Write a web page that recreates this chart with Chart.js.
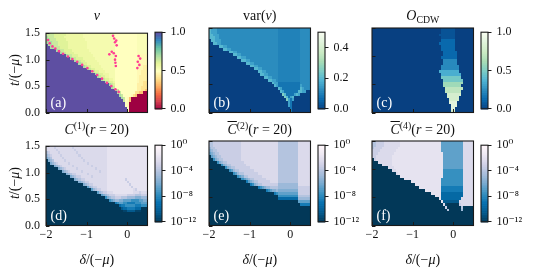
<!DOCTYPE html>
<html>
<head>
<meta charset="utf-8">
<script src="https://cdn.jsdelivr.net/npm/chart.js@4.4.1/dist/chart.umd.min.js"></script>
<style>
  body { margin: 0; width: 537px; height: 268px; position: relative; overflow: hidden; background: #fff;
         font-family: 'Liberation Serif', 'DejaVu Serif', serif; color: #111; }
  canvas { position: absolute; }
  .lbl { position: absolute; transform: translate(-50%, -50%); white-space: nowrap; font-size: 14px; line-height: 1; }
  .ylab { position: absolute; transform: translate(-50%, -50%) rotate(-90deg); white-space: nowrap; font-size: 14px; line-height: 1; }
  .pl { position: absolute; transform: translateY(-50%); color: #fff; font-size: 14px; line-height: 1; }
  sup { font-size: 0.7em; vertical-align: 0.5em; line-height: 0; }
  sub { font-size: 0.7em; vertical-align: -0.3em; line-height: 0; }
  .ob { text-decoration: overline; text-decoration-thickness: 1px; }
</style>
</head>
<body>
<script>
// axes
const deltaMin = -2, deltaMax = 0.5;
const tMin = 0, tMax = 1.5;
const deltaTicks = [-2, -1, 0];
const deltaTickLabels = ['−2', '−1', '0'];
const tTicks = [0, 0.5, 1, 1.5];
const tTickLabels = ['0.0', '0.5', '1.0', '1.5'];

// heatmap rows, top (t = 1.5) to bottom (t = 0), 50 cells in delta each, "level:count"
const nuRows = [
  "h:4 i:6 j:8 k:16 w:11 y:5",
  "g:1 h:3 i:5 j:9 k:16 w:11 y:5",
  "g:2 h:3 i:5 j:9 k:15 w:11 y:5",
  "g:3 h:3 i:5 j:9 k:14 w:11 y:5",
  "P:1 g:2 h:3 i:5 j:9 k:14 w:11 y:5",
  "P:2 g:2 h:3 i:4 j:9 k:14 w:11 y:5",
  "P:5 g:1 h:3 i:4 j:8 k:13 w:11 y:5",
  "P:7 g:1 h:2 i:4 j:8 k:12 w:11 y:5",
  "P:10 g:1 h:2 i:3 j:7 k:11 w:11 o:5",
  "P:12 g:1 h:2 i:3 j:6 k:10 w:11 o:5",
  "P:14 g:1 h:2 i:2 j:6 k:9 w:11 o:5",
  "P:16 g:1 h:1 i:2 j:6 k:8 w:11 o:5",
  "P:18 g:1 h:1 i:2 j:5 k:7 w:11 o:3 p:2",
  "P:20 g:1 h:1 i:2 j:4 k:6 w:11 o:3 p:2",
  "P:22 g:1 h:1 i:2 j:3 k:5 w:11 o:2 p:3",
  "P:24 g:1 h:1 i:2 j:3 k:3 w:11 o:2 p:3",
  "P:25 g:1 h:1 i:2 j:2 k:3 w:11 o:1 p:4",
  "P:27 g:1 h:1 i:2 j:2 k:1 w:11 o:1 p:4",
  "P:29 g:1 h:1 i:2 j:1 w:11 o:1 p:2 q:2",
  "P:31 g:1 h:1 i:1 w:11 p:3 q:2",
  "P:32 g:1 h:1 w:11 p:2 q:3",
  "P:34 g:1 h:1 w:9 p:2 q:2 r:1",
  "P:35 g:1 h:1 w:7 q:2 r:2 R:2",
  "P:36 g:1 h:1 w:4 o:1 q:1 r:1 R:5",
  "P:37 g:1 h:1 w:1 o:1 r:1 R:8",
  "P:38 h:1 w:1 o:1 r:1 R:8",
  "P:39 w:1 o:1 R:9",
  "P:39 w:1 o:1 R:9",
  "P:40 w:1 R:9",
  "P:40 o:1 R:9"
];
const nuLevels = { P: 1.0, g: 0.70, h: 0.65, i: 0.61, j: 0.57, k: 0.54, y: 0.52, w: 0.50,
                   o: 0.48, p: 0.45, q: 0.41, r: 0.34, R: 0.0 };

const varRows = [
  "e:1 c:3 b:30 m:11 b:5",
  "e:1 c:3 b:30 m:11 b:5",
  "e:2 c:3 b:29 m:11 b:5",
  "e:3 c:2 b:29 m:11 b:5",
  "D:1 e:2 c:3 b:28 m:11 b:5",
  "D:2 e:2 c:2 b:28 m:11 b:5",
  "D:5 e:2 c:2 b:25 m:11 b:5",
  "D:7 e:2 c:2 b:23 m:11 b:5",
  "D:10 e:2 c:2 b:20 m:11 b:5",
  "D:12 e:2 c:2 b:18 m:11 b:5",
  "D:14 e:2 c:2 b:16 m:11 b:5",
  "D:16 e:2 c:2 b:14 m:11 b:5",
  "D:18 e:2 c:2 b:12 m:11 b:5",
  "D:20 e:2 c:2 b:10 m:11 b:5",
  "D:22 e:2 c:2 b:8 m:11 b:5",
  "D:24 e:2 c:2 b:6 m:11 b:5",
  "D:25 e:2 c:2 b:5 m:11 b:5",
  "D:27 e:2 c:2 b:3 m:11 b:5",
  "D:29 e:2 c:2 b:1 m:11 b:5",
  "D:31 e:1 c:2 n:11 b:5",
  "D:32 e:1 c:1 n:11 c:1 b:4",
  "D:34 e:1 c:1 n:9 e:1 c:1 b:3",
  "D:35 e:1 c:1 n:7 e:2 c:2 D:2",
  "D:36 f:1 e:1 n:4 c:1 e:1 c:1 D:5",
  "D:37 f:1 e:1 n:1 c:1 e:1 D:8",
  "D:38 f:1 c:1 n:1 c:1 D:8",
  "D:39 c:1 n:1 D:9",
  "D:39 c:1 n:1 D:9",
  "D:40 n:1 D:9",
  "D:40 n:1 D:9"
];
const varLevels = { D: 0.0, n: 0.085, m: 0.108, b: 0.125, c: 0.16, e: 0.2, f: 0.26 };

const cdwRows = [
  "D:34 1:7 D:9",
  "D:34 1:7 D:9",
  "D:33 1:8 D:9",
  "D:34 1:7 D:9",
  "D:34 2:7 D:9",
  "D:33 2:8 D:9",
  "D:34 2:7 D:9",
  "D:34 2:7 D:9",
  "D:35 2:7 D:8",
  "D:35 2:7 D:8",
  "D:34 2:8 D:8",
  "D:35 3:7 D:8",
  "D:35 3:7 D:8",
  "D:34 3:9 D:7",
  "D:34 3:9 D:7",
  "D:33 4:10 D:7",
  "D:34 4:10 D:6",
  "D:34 5:10 D:6",
  "D:35 5:10 D:5",
  "D:35 6:10 D:5",
  "D:35 6:9 D:6",
  "D:36 7:9 D:5",
  "D:36 7:8 D:6",
  "D:37 8:7 D:6",
  "D:37 8:6 D:7",
  "D:38 8:5 D:7",
  "D:38 9:4 D:8",
  "D:39 9:3 D:8",
  "D:39 9:2 D:9",
  "D:39 8:2 D:9"
];
const cdwLevels = { D: 0.0, 1: 0.06, 2: 0.13, 3: 0.24, 4: 0.36, 5: 0.48, 6: 0.6, 7: 0.7, 8: 0.8, 9: 0.88 };

const c1Rows = [
  "b:4 c:1 b:8 c:1 b:16 a:20",
  "b:5 c:1 b:8 c:1 b:15 a:20",
  "d:1 c:1 b:4 c:1 b:8 c:1 b:14 a:20",
  "e:1 d:1 c:1 b:4 c:1 b:8 c:1 b:13 a:20",
  "f:1 e:1 d:1 b:5 c:1 b:8 c:1 b:12 a:20",
  "Z:1 f:1 e:1 d:1 b:5 c:1 b:8 c:1 b:11 a:20",
  "Z:2 f:1 e:1 d:1 c:1 b:5 c:1 b:8 c:1 b:9 a:20",
  "Z:4 f:1 e:1 d:1 c:1 b:5 c:1 b:8 c:1 b:7 a:20",
  "Z:6 f:1 e:1 d:1 c:1 b:5 c:1 b:8 c:1 b:5 a:20",
  "Z:8 f:1 e:1 d:1 c:1 b:5 c:1 b:8 c:1 b:3 a:20",
  "Z:10 f:1 e:1 d:1 c:2 b:5 c:1 b:9 a:20",
  "Z:12 f:1 e:1 d:1 c:2 b:5 c:1 b:7 a:20",
  "Z:14 f:1 e:1 d:1 c:2 b:11 a:9 c:1 a:10",
  "Z:16 f:1 e:1 d:1 c:2 b:9 a:10 c:1 a:9",
  "Z:18 f:1 e:1 d:1 c:2 b:7 a:11 c:1 a:8",
  "Z:20 g:1 e:1 d:1 c:2 b:5 a:12 c:1 a:7",
  "Z:22 g:1 e:1 d:1 c:2 b:3 a:13 b:1 c:1 a:5",
  "Z:25 g:1 e:1 d:1 c:2 b:3 a:10 b:3 c:1 b:3",
  "Z:27 g:1 f:1 e:1 d:1 c:3 b:6 c:4 d:3 c:3",
  "Z:29 h:1 f:1 e:1 d:2 c:3 d:3 e:4 f:3 e:3",
  "Z:31 h:1 g:1 f:1 e:2 f:2 g:4 h:4 g:2 f:2",
  "Z:34 i:1 h:1 g:2 h:2 i:4 h:3 g:3",
  "Z:36 j:1 i:2 h:5 i:3 h:3",
  "Z:37 k:1 j:2 i:4 j:3 Z:3",
  "Z:38 l:2 k:4 l:3 Z:3",
  "Z:50", "Z:50", "Z:50", "Z:50", "Z:50"
];

const c2Rows = [
  "d:2 c:14 b:18 d:10 b:6",
  "d:2 c:14 b:18 d:10 b:6",
  "e:1 d:2 c:13 b:18 d:10 b:6",
  "f:1 e:1 d:2 c:12 b:18 d:10 b:6",
  "g:1 f:1 e:1 d:2 c:11 b:18 d:10 b:6",
  "Z:1 g:1 f:1 e:1 d:2 c:10 b:18 d:10 b:6",
  "Z:2 h:1 f:1 e:1 d:2 c:9 b:18 d:10 b:6",
  "Z:4 h:1 f:1 e:1 d:2 c:8 b:17 d:10 b:6",
  "Z:6 h:1 f:1 e:1 d:2 c:7 b:16 d:10 b:6",
  "Z:8 h:1 f:1 e:1 d:2 c:7 b:14 d:10 b:6",
  "Z:10 h:1 g:1 e:1 d:2 c:7 b:12 d:10 b:6",
  "Z:12 h:1 g:1 e:1 d:2 c:7 b:10 d:10 b:6",
  "Z:14 h:1 g:1 f:1 d:2 c:7 b:8 d:10 b:6",
  "Z:16 h:1 g:1 f:1 e:1 d:2 c:6 b:6 d:10 b:6",
  "Z:18 i:1 g:1 f:1 e:1 d:2 c:6 b:4 d:10 b:6",
  "Z:20 i:1 h:1 f:1 e:1 d:2 c:8 e:10 b:6",
  "Z:24 i:1 h:1 g:1 f:1 e:2 d:4 e:10 c:6",
  "Z:28 i:1 h:1 g:1 f:2 e:1 f:10 c:6",
  "Z:32 i:1 h:1 g:10 c:6",
  "Z:34 h:10 d:6",
  "Z:34 j:10 e:6",
  "Z:44 g:6",
  "Z:45 i:5",
  "Z:50", "Z:50", "Z:50", "Z:50", "Z:50", "Z:50", "Z:50"
];

const c4Rows = [
  "d:2 c:4 b:8 a:20 g:11 b:5",
  "d:2 c:4 b:8 a:20 g:11 b:5",
  "d:1 c:4 b:8 a:21 g:11 b:5",
  "c:4 b:8 a:22 g:11 b:5",
  "c:3 b:8 a:24 g:10 b:5",
  "c:2 b:8 a:25 g:10 b:5",
  "Z:1 c:1 b:8 a:25 g:10 b:5",
  "Z:3 b:7 a:25 g:10 b:5",
  "Z:5 b:5 a:25 g:10 b:5",
  "Z:8 b:3 a:24 g:10 b:5",
  "Z:10 b:2 a:23 h:10 b:5",
  "Z:12 b:1 a:22 h:10 b:5",
  "Z:14 a:21 h:10 b:5",
  "Z:16 a:18 h:11 b:5",
  "Z:19 a:15 h:11 b:5",
  "Z:21 a:13 h:11 b:5",
  "Z:23 a:11 i:11 b:5",
  "Z:26 a:8 i:11 b:5",
  "Z:29 a:5 j:11 b:5",
  "Z:31 a:3 j:11 b:5",
  "Z:33 a:1 j:10 b:6",
  "Z:34 a:1 k:8 b:7",
  "Z:35 b:1 l:1 Z:6 c:1 b:6",
  "Z:36 c:1 Z:7 d:1 Z:5",
  "Z:37 d:1 Z:6 e:1 Z:5",
  "Z:50", "Z:50", "Z:50", "Z:50", "Z:50"
];
// log10 of the correlation for each level
const corrLevels = { a: -1.8, b: -2.4, c: -3.2, d: -4.0, e: -4.8, f: -5.6, g: -6.5, h: -7.5,
                     i: -8.5, j: -9.5, k: -10.5, l: -11.5, Z: -13 };

// markers in panel (a)
const dotDelta = [-1.95, -1.91, -1.84, -1.77, -1.68, -1.58, -1.46, -1.35, -1.23, -1.11, -0.98, -0.86,
                  -0.74, -0.62, -0.50, -0.39, -0.29, -0.21,
                  -0.35, -0.32, -0.30, -0.27, -0.26, -0.38, -0.33, -0.28, -0.30, -0.29, -0.28, -0.44,
                  0.28, 0.32, 0.26, 0.30, 0.25];
const dotT = [1.37, 1.31, 1.25, 1.21, 1.16, 1.11, 1.06, 1.01, 0.96, 0.90, 0.84, 0.78,
              0.71, 0.64, 0.56, 0.50, 0.44, 0.39,
              1.45, 1.40, 1.33, 1.36, 1.27, 1.15, 1.12, 1.07, 1.00, 0.94, 0.88, 1.10,
              1.07, 1.02, 0.96, 0.90, 0.84];

// colorbar ticks
const linTicks1 = [0, 0.5, 1];
const linLabels1 = ['0.0', '0.5', '1.0'];
const varTicks = [0, 0.2, 0.4];
const varLabels = ['0.0', '0.2', '0.4'];
const logTicks = [1e-12, 1e-8, 1e-4, 1];
const logLabels = ['10⁻¹²', '10⁻⁸', '10⁻⁴', '10⁰'];

// colormaps
const spectral = ['#9e0142', '#d53e4f', '#f46d43', '#fdae61', '#fee08b', '#ffffbf',
                  '#e6f598', '#abdda4', '#66c2a5', '#3288bd', '#5e4fa2'];
const gnbuR = ['#084081', '#0868ac', '#2b8cbe', '#4eb3d3', '#7bccc4', '#a8ddb5', '#ccebc5', '#e0f3db', '#f7fcf0'];
const pubuR = ['#023858', '#045a8d', '#0570b0', '#3690c0', '#74a9cf', '#a6bddb', '#d0d1e6', '#ece7f2', '#fff7fb'];

// layout
const colLeft = [46, 209, 372];
const rowTop = [28, 141];
const plotW = 101.5, plotH = 84.5;
const cbarLeft = [155, 318, 481];
const cbarW = 7;
const FONT = "'Liberation Serif', 'DejaVu Serif', serif";
const INK = '#1a1a1a';

function decodeRows(rows) {
  return rows.map(r => {
    let s = '';
    r.split(' ').forEach(tok => {
      const [ch, n] = tok.split(':');
      s += ch.repeat(+n);
    });
    return s;
  });
}

function hexRgb(h) {
  return [parseInt(h.slice(1, 3), 16), parseInt(h.slice(3, 5), 16), parseInt(h.slice(5, 7), 16)];
}

function cmapColor(stops, p) {
  p = Math.min(1, Math.max(0, p));
  const f = p * (stops.length - 1);
  const k = Math.min(stops.length - 2, Math.floor(f));
  const u = f - k;
  const a = hexRgb(stops[k]), b = hexRgb(stops[k + 1]);
  const c = a.map((v, i) => Math.round(v + (b[i] - v) * u));
  return `rgb(${c[0]},${c[1]},${c[2]})`;
}

function fraction(o, v) {
  return o.log ? (v + 12) / 12 : (v - o.vmin) / (o.vmax - o.vmin);
}

const heatPlugin = {
  id: 'heat',
  beforeDatasetsDraw(chart, args, o) {
    const ctx = chart.ctx, xs = chart.scales.x, ys = chart.scales.y;
    const grid = decodeRows(o.rows);
    const nr = grid.length, nc = grid[0].length;
    ctx.save();
    for (let i = 0; i < nr; i++) {
      const tTop = tMax - (tMax - tMin) * i / nr;
      const tBot = tMax - (tMax - tMin) * (i + 1) / nr;
      const y0 = Math.round(ys.getPixelForValue(tTop));
      const y1 = Math.round(ys.getPixelForValue(tBot));
      for (let j = 0; j < nc; j++) {
        const d0 = deltaMin + (deltaMax - deltaMin) * j / nc;
        const d1 = deltaMin + (deltaMax - deltaMin) * (j + 1) / nc;
        const x0 = Math.round(xs.getPixelForValue(d0));
        const x1 = Math.round(xs.getPixelForValue(d1));
        ctx.fillStyle = cmapColor(o.cmap, fraction(o, o.levels[grid[i][j]]));
        ctx.fillRect(x0, y0, x1 - x0, y1 - y0);
      }
    }
    ctx.restore();
  }
};

const framePlugin = {
  id: 'frame',
  afterDatasetsDraw(chart) {
    const ctx = chart.ctx, a = chart.chartArea, xs = chart.scales.x, ys = chart.scales.y;
    ctx.save();
    ctx.strokeStyle = INK;
    ctx.lineWidth = 1;
    ctx.beginPath();
    deltaTicks.forEach(v => {
      const x = Math.round(xs.getPixelForValue(v)) + 0.5;
      ctx.moveTo(x, a.bottom); ctx.lineTo(x, a.bottom - 3.5);
    });
    tTicks.forEach(v => {
      const y = Math.round(ys.getPixelForValue(v)) + 0.5;
      ctx.moveTo(a.left, y); ctx.lineTo(a.left + 3.5, y);
    });
    ctx.stroke();
    ctx.lineWidth = 1.1;
    ctx.strokeRect(a.left, a.top, a.right - a.left, a.bottom - a.top);
    ctx.restore();
  }
};

const cbarPlugin = {
  id: 'cbar',
  beforeDatasetsDraw(chart, args, o) {
    const ctx = chart.ctx, a = chart.chartArea, ys = chart.scales.y;
    const n = 120;
    ctx.save();
    for (let k = 0; k < n; k++) {
      let v0, v1;
      if (o.log) {
        v0 = Math.pow(10, -12 + 12 * k / n); v1 = Math.pow(10, -12 + 12 * (k + 1) / n);
      } else {
        v0 = o.vmin + (o.vmax - o.vmin) * k / n; v1 = o.vmin + (o.vmax - o.vmin) * (k + 1) / n;
      }
      const y0 = ys.getPixelForValue(v0), y1 = ys.getPixelForValue(v1);
      ctx.fillStyle = cmapColor(o.cmap, (k + 0.5) / n);
      ctx.fillRect(a.left, y1, a.right - a.left, y0 - y1 + 0.6);
    }
    ctx.strokeStyle = INK;
    ctx.lineWidth = 1.1;
    ctx.strokeRect(a.left, a.top, a.right - a.left, a.bottom - a.top);
    ctx.restore();
  }
};

const panels = [
  { col: 0, row: 0, rows: nuRows, levels: nuLevels, cmap: spectral, vmin: 0, vmax: 1, log: false,
    cbTicks: linTicks1, cbLabels: linLabels1, title: '<i>ν</i>', tag: '(a)', dots: true },
  { col: 1, row: 0, rows: varRows, levels: varLevels, cmap: gnbuR, vmin: 0, vmax: 0.5, log: false,
    cbTicks: varTicks, cbLabels: varLabels, title: 'var(<i>ν</i>)', tag: '(b)' },
  { col: 2, row: 0, rows: cdwRows, levels: cdwLevels, cmap: gnbuR, vmin: 0, vmax: 1, log: false,
    cbTicks: linTicks1, cbLabels: linLabels1, title: '<i>O</i><sub>CDW</sub>', tag: '(c)' },
  { col: 0, row: 1, rows: c1Rows, levels: corrLevels, cmap: pubuR, log: true,
    cbTicks: logTicks, cbLabels: logLabels, title: '<i>C</i><sup>(1)</sup>(<i>r</i> = 20)', tag: '(d)' },
  { col: 1, row: 1, rows: c2Rows, levels: corrLevels, cmap: pubuR, log: true,
    cbTicks: logTicks, cbLabels: logLabels, title: '<i class="ob">C</i><sup>(2)</sup>(<i>r</i> = 20)', tag: '(e)' },
  { col: 2, row: 1, rows: c4Rows, levels: corrLevels, cmap: pubuR, log: true,
    cbTicks: logTicks, cbLabels: logLabels, title: '<i class="ob">C</i><sup>(4)</sup>(<i>r</i> = 20)', tag: '(f)' }
];

function addCanvas(left, top, w, h) {
  const cv = document.createElement('canvas');
  cv.width = w; cv.height = h;
  cv.style.left = left + 'px'; cv.style.top = top + 'px';
  cv.style.width = w + 'px'; cv.style.height = h + 'px';
  document.body.appendChild(cv);
  return cv;
}

function addText(cls, x, y, html) {
  const d = document.createElement('div');
  d.className = cls;
  d.style.left = x + 'px'; d.style.top = y + 'px';
  d.innerHTML = html;
  document.body.appendChild(d);
}

function makePanel(p) {
  const L = colLeft[p.col], T = rowTop[p.row];
  const cw = 148, ch = 118, yW = 42, padTop = 8;
  const cv = addCanvas(L - yW, T - padTop, cw, ch);
  const showX = p.row === 1, showY = p.col === 0;
  const tickFont = { family: FONT, size: 12 };
  const datasets = p.dots ? [{
    data: dotDelta.map((d, i) => ({ x: d, y: dotT[i] })),
    pointRadius: 1.3, pointBackgroundColor: '#ff3d93', pointBorderWidth: 0
  }] : [];
  new Chart(cv, {
    type: 'scatter',
    data: { datasets },
    options: {
      responsive: false, animation: false, events: [],
      layout: { padding: { left: 0, top: padTop, right: cw - yW - plotW, bottom: 0 } },
      plugins: {
        legend: { display: false }, tooltip: { enabled: false },
        heat: { rows: p.rows, levels: p.levels, cmap: p.cmap, vmin: p.vmin, vmax: p.vmax, log: p.log }
      },
      scales: {
        x: {
          type: 'linear', min: deltaMin, max: deltaMax,
          afterBuildTicks: s => { s.ticks = deltaTicks.map(v => ({ value: v })); },
          afterFit: s => { s.height = ch - padTop - plotH; },
          grid: { display: false, drawTicks: false }, border: { display: false },
          ticks: { display: showX, padding: 2, color: '#111', font: tickFont, maxRotation: 0,
                   autoSkip: false, callback: (v, i) => deltaTickLabels[i] }
        },
        y: {
          type: 'linear', min: tMin, max: tMax,
          afterBuildTicks: s => { s.ticks = tTicks.map(v => ({ value: v })); },
          afterFit: s => { s.width = yW; },
          grid: { display: false, drawTicks: false }, border: { display: false },
          ticks: { display: showY, padding: 6, color: '#111', font: tickFont,
                   autoSkip: false, callback: (v, i) => tTickLabels[i] }
        }
      }
    },
    plugins: [heatPlugin, framePlugin]
  });

  // colorbar
  const cbL = cbarLeft[p.col];
  const bw = 52, bh = 101;
  const cb = addCanvas(cbL - 2, T - padTop, bw, bh);
  new Chart(cb, {
    type: 'scatter',
    data: { datasets: [] },
    options: {
      responsive: false, animation: false, events: [],
      layout: { padding: { left: 2, top: padTop, right: 0, bottom: bh - padTop - plotH } },
      plugins: {
        legend: { display: false }, tooltip: { enabled: false },
        cbar: { cmap: p.cmap, vmin: p.vmin, vmax: p.vmax, log: p.log }
      },
      scales: {
        x: { display: false, min: 0, max: 1 },
        y: {
          type: p.log ? 'logarithmic' : 'linear', position: 'right',
          min: p.log ? 1e-12 : p.vmin, max: p.log ? 1 : p.vmax,
          afterBuildTicks: s => { s.ticks = p.cbTicks.map(v => ({ value: v })); },
          afterFit: s => { s.width = bw - 2 - cbarW; },
          grid: { display: true, drawOnChartArea: false, drawTicks: true, tickLength: 3.5, color: INK, lineWidth: 1 },
          border: { display: false },
          ticks: { padding: 5, color: '#111', font: { family: FONT, size: 12 }, autoSkip: false,
                   callback: (v, i) => p.cbLabels[i] }
        }
      }
    },
    plugins: [cbarPlugin]
  });

  // texts
  addText('lbl', L + plotW / 2, p.row === 0 ? 16 : 129.5, p.title);
  addText('pl', L + 4.5, T + plotH - 10, p.tag);
  if (showX) addText('lbl', L + plotW / 2, 260, '<i>δ</i>/(−<i>μ</i>)');
  if (showY) addText('ylab', 15, T + plotH / 2, '<i>t</i>/(−<i>μ</i>)');
}

panels.forEach(makePanel);
</script>
</body>
</html>
